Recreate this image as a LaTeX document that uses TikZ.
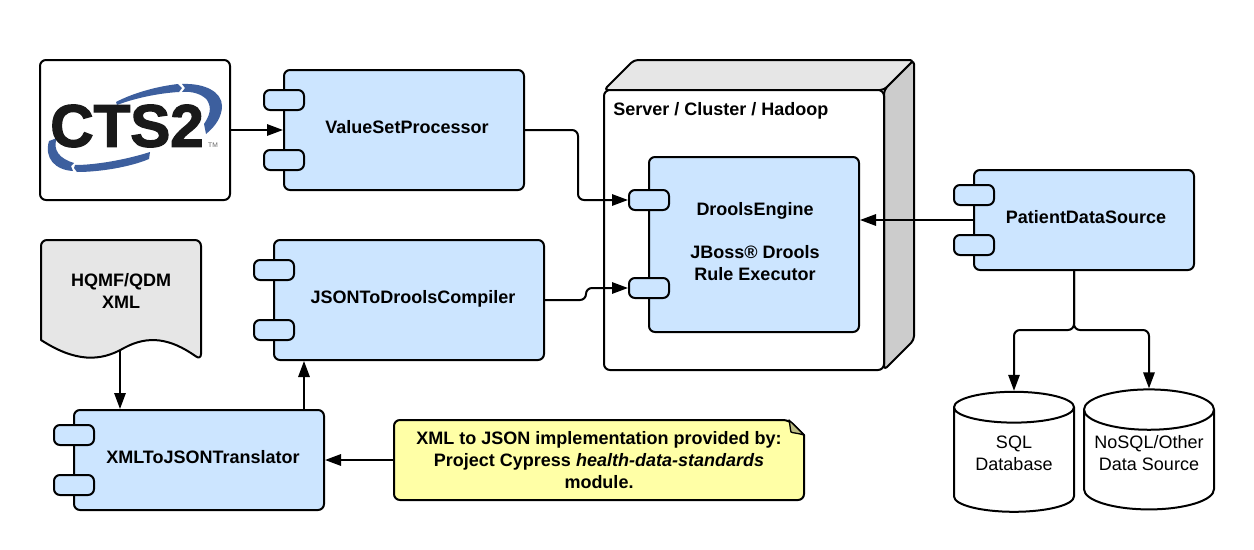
\documentclass[tikz,border=0pt]{standalone}
\usepackage{fontspec}
\setmainfont{Liberation Sans}
\newfontfamily\logofont[FakeBold=2.2]{Liberation Sans Bold}
\usetikzlibrary{arrows.meta,shapes.geometric}
\definecolor{compblue}{HTML}{CCE5FF}
\definecolor{lightgray}{HTML}{E6E6E6}
\definecolor{midgray}{HTML}{CCCCCC}
\definecolor{noteyellow}{HTML}{FFFFA6}
\definecolor{notefold}{HTML}{BDBD84}
\definecolor{logoblue}{HTML}{3D5F9E}
\tikzset{
  every node/.style={font=\fontsize{13.5}{16.5}\selectfont, align=center},
  title/.style={font=\fontsize{13.5}{16.5}\selectfont\bfseries, inner sep=0pt},
  outline/.style={draw=black, line width=1.5pt, line join=round},
  comp/.style 2 args={outline, fill=compblue, rounded corners=4.5pt,
    minimum width=#1*0.75pt, minimum height=#2*0.75pt, inner sep=0pt},
  tab/.style={outline, fill=compblue, rounded corners=4.5pt, minimum width=30pt, minimum height=15pt, inner sep=0pt},
  db/.style={outline, cylinder, shape border rotate=90, aspect=0.4, fill=white, minimum width=#1*0.75pt, minimum height=90pt, inner sep=0pt, text depth=10.5pt},
  link/.style={line width=1.5pt, -{Triangle[length=12pt,width=8.5pt]}, rounded corners=4.5pt},
}
\begin{document}
\begin{tikzpicture}[x=0.75pt, y=-0.75pt]
\useasboundingbox (0,0) rectangle (1254,550);
% logo
\node[comp={190}{140}, fill=white] (logo) at (135,130) {};
\fill[logoblue] (116,102) .. controls (135,92) and (160,86) .. (178,84) -- (182,88) -- (179,92) .. controls (160,93) and (135,98) .. (117,105) -- cycle;
\fill[logoblue] (182,84) .. controls (205,83) and (222,92) .. (222,106) .. controls (222,116) and (216,126) .. (206,134) -- (204,124) .. controls (210,115) and (212,108) .. (207,100) .. controls (202,94) and (192,91) .. (182,92) -- (185,88) -- cycle;
\fill[logoblue] (49,141) -- (57,138) .. controls (52,150) and (60,159) .. (74,163) -- (71,166) -- (73,171) .. controls (55,170) and (44,158) .. (49,141) -- cycle;
\fill[logoblue] (75,165) .. controls (95,165) and (125,160) .. (150,152) -- (149,159) .. controls (130,167) and (100,172) .. (77,172) -- (74,168) -- cycle;
\node[font=\fontsize{45}{45}\logofont, text=black!90, inner sep=0pt] (ctstext) at (127,126) {CTS2};
\node[font=\fontsize{5}{5}\selectfont, text=black!60, inner sep=0pt] (tmmark) at (213,145) {TM};
% top row
\node[comp={240}{120}] (valueset) at (404,130) {};
\node[title] (valuesettext) at (407,127) {ValueSetProcessor};
\node[tab] (vtaba) at (284,100) {};
\node[tab] (vtabb) at (284,160) {};
% document
\filldraw[outline, fill=lightgray, rounded corners=4.5pt] (41,240) -- (201,240) -- (201,360) [sharp corners] .. controls (170,338) and (148,335) .. (124,348) .. controls (100,362) and (75,362) .. (41,340) [rounded corners=4.5pt] -- cycle;
\node[title] (docxml) at (121,291) {HQMF/QDM\\XML};
\coordinate (docout) at (120,351);
% compiler
\node[comp={270}{120}] (compiler) at (409,300) {};
\node[title] (compilertext) at (413,299) {JSONToDroolsCompiler};
\node[tab] (ctaba) at (274,270) {};
\node[tab] (ctabb) at (274,330) {};
% translator
\node[comp={250}{100}] (translator) at (199,460) {};
\node[title] (translatortext) at (203,457) {XMLToJSONTranslator};
\node[tab] (ttaba) at (74,435) {};
\node[tab] (ttabb) at (74,485) {};
\coordinate (transout) at (304,410);
% note
\filldraw[outline, fill=noteyellow, rounded corners=4.5pt] (394,420) -- (789,420) [sharp corners] -- (804,435) [rounded corners=4.5pt] -- (804,500) -- (394,500) -- cycle;
\filldraw[outline, line width=1pt, fill=notefold] (789,420) -- (804,435) .. controls (798,433) and (792,433) .. (791,432) .. controls (790,428) and (790,424) .. (789,420) -- cycle;
\node[title, minimum width=307.5pt, minimum height=60pt] (note) at (599,460)
  {XML to JSON implementation provided by:\\Project Cypress \textit{health-data-standards}\\module.};
% server
\filldraw[outline, fill=lightgray, rounded corners=3pt] (604,90) -- (634,60) -- (914,60) -- (884,90) -- cycle;
\filldraw[outline, fill=midgray, rounded corners=3pt] (884,90) -- (914,60) -- (914,340) -- (884,370) -- cycle;
\node[comp={280}{280}, fill=white] (server) at (744,230) {};
\node[title, anchor=west] (serverlabel) at (613,111) {Server / Cluster / Hadoop};
\node[comp={210}{175}] (drools) at (754,244.5) {};
\node[title] (droolstext) at (755,241.5) {DroolsEngine\\[16pt]JBoss® Drools\\Rule Executor};
\node[tab] (dtaba) at (649,200) {};
\node[tab] (dtabb) at (649,288) {};
% patient data
\node[comp={220}{100}] (patient) at (1084,220) {};
\node[title] (patienttext) at (1086,217) {PatientDataSource};
\node[tab] (ptaba) at (974,195) {};
\node[tab] (ptabb) at (974,245) {};
\coordinate (patientout) at (1074,270);
\node[db=120] (sql) at (1014,460) {SQL\\Database};
\node[db=130, aspect=0.37] (nosql) at (1149,460) {NoSQL/Other\\Data Source};
% connectors
\draw[link] (logo.east) -- (valueset.west);
\draw[link] (valueset.east) -- ++(53,0) |- (dtaba.west);
\draw[link] (compiler.east) -- ++(41,0) |- (dtabb.west);
\draw[link] (docout) -- (docout |- translator.north);
\draw[link] (transout) -- (transout |- compiler.south);
\draw[link] (note.west) -- (translator.east);
\draw[link] (patient.west) -- (patient.west -| drools.east);
\draw[link] (patientout) -- ++(0,60) -| (sql.top);
\draw[link] (patientout) -- ++(0,60) -| (nosql.top);
\end{tikzpicture}
\end{document}
